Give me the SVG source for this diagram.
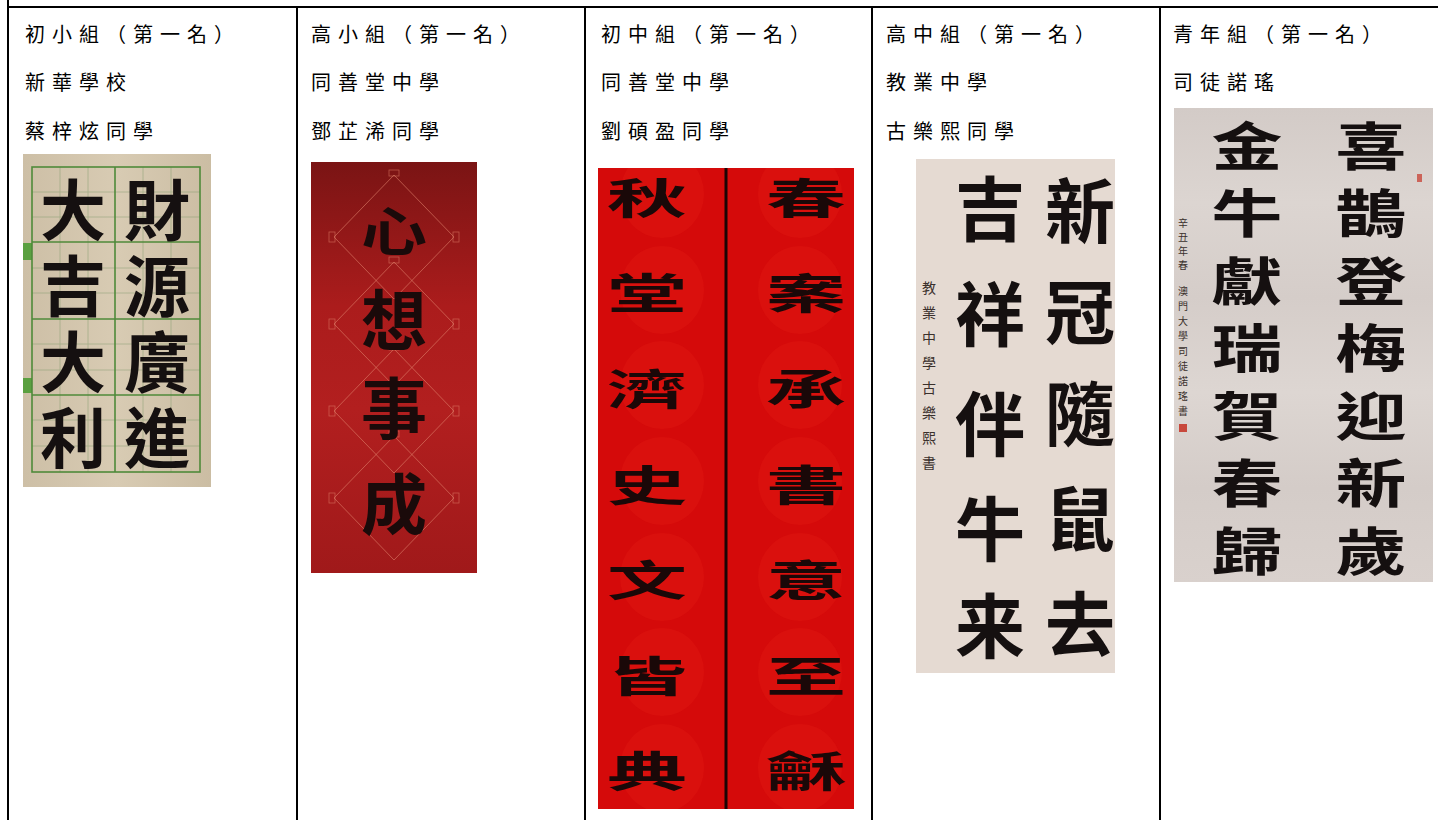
<svg xmlns="http://www.w3.org/2000/svg" width="1438" height="820" viewBox="0 0 1438 820">
<style>
.lbl{font-family:"Noto Sans CJK TC","Noto Sans CJK SC",sans-serif;font-size:20px;letter-spacing:7px;fill:#000}
.cal{font-family:"Noto Sans CJK TC","Noto Sans CJK SC",sans-serif;font-weight:700;text-anchor:middle;dominant-baseline:central;fill:#151010}
.sm{font-family:"Noto Sans CJK TC","Noto Sans CJK SC",sans-serif;text-anchor:middle;dominant-baseline:central;fill:#3a302c}
.grid{stroke:#4f8a3a;stroke-width:1.6;fill:none}
.sub{stroke:#7e9a6a;stroke-width:0.8;fill:none;opacity:0.55}
.dia{stroke:#e0806a;stroke-width:1;fill:none;opacity:0.6}
.fret{stroke:#e0806a;stroke-width:0.8;fill:none;opacity:0.6}
.circ{fill:#e01812;opacity:0.45}
.tbl{stroke:#000;stroke-width:2;fill:none}
</style>
<defs>
<linearGradient id="g2" x1="0" y1="0" x2="0" y2="1">
<stop offset="0" stop-color="#7a1414"/>
<stop offset="0.35" stop-color="#ab1c1c"/>
<stop offset="0.6" stop-color="#b21f1f"/>
<stop offset="1" stop-color="#a0191a"/>
</linearGradient>
<linearGradient id="g1" x1="0" y1="0" x2="1" y2="0">
<stop offset="0" stop-color="#cdbfa6"/>
<stop offset="0.5" stop-color="#d8cbb3"/>
<stop offset="1" stop-color="#cbbda3"/>
</linearGradient>
<linearGradient id="g5" x1="0" y1="0" x2="0" y2="1">
<stop offset="0" stop-color="#d3cbc7"/>
<stop offset="0.2" stop-color="#dcd5d1"/>
<stop offset="0.4" stop-color="#d5cdc9"/>
<stop offset="0.6" stop-color="#ddd6d2"/>
<stop offset="0.8" stop-color="#d4ccc8"/>
<stop offset="1" stop-color="#d9d1cd"/>
</linearGradient>
<clipPath id="c2"><rect x="311" y="162" width="166" height="411"/></clipPath>
<clipPath id="c3"><rect x="598" y="168" width="256" height="641"/></clipPath>
</defs>

<g id="table">
<line class="tbl" x1="8" y1="0" x2="8" y2="820"/>
<line class="tbl" x1="7" y1="7" x2="1438" y2="7"/>
<line class="tbl" x1="297" y1="7" x2="297" y2="820"/>
<line class="tbl" x1="585" y1="7" x2="585" y2="820"/>
<line class="tbl" x1="872" y1="7" x2="872" y2="820"/>
<line class="tbl" x1="1160" y1="7" x2="1160" y2="820"/>
</g>

<g id="col1">
<text class="lbl" x="25" y="42">初小組（第一名）</text>
<text class="lbl" x="25" y="90">新華學校</text>
<text class="lbl" x="25" y="139">蔡梓炫同學</text>
<g id="img1">
<rect x="23" y="154" width="188" height="333" fill="url(#g1)"/>
<rect x="23" y="243" width="9" height="17" fill="#5aa040"/>
<rect x="23" y="378" width="9" height="15" fill="#5aa040"/>
<g class="sub">
<line x1="60" y1="167" x2="60" y2="472"/><line x1="88" y1="167" x2="88" y2="472"/>
<line x1="143" y1="167" x2="143" y2="472"/><line x1="171" y1="167" x2="171" y2="472"/>
<line x1="32" y1="192" x2="200" y2="192"/><line x1="32" y1="217" x2="200" y2="217"/>
<line x1="32" y1="268" x2="200" y2="268"/><line x1="32" y1="293" x2="200" y2="293"/>
<line x1="32" y1="344" x2="200" y2="344"/><line x1="32" y1="370" x2="200" y2="370"/>
<line x1="32" y1="420" x2="200" y2="420"/><line x1="32" y1="446" x2="200" y2="446"/>
</g>
<g class="grid">
<rect x="32" y="167" width="168" height="305"/>
<line x1="115" y1="167" x2="115" y2="472"/>
<line x1="32" y1="242" x2="200" y2="242"/>
<line x1="32" y1="319" x2="200" y2="319"/>
<line x1="32" y1="395" x2="200" y2="395"/>
</g>
<g class="cal" style="font-size:66px">
<text x="157" y="206">財</text><text x="157" y="282">源</text><text x="157" y="358">廣</text><text x="157" y="434">進</text>
<text x="73" y="206">大</text><text x="73" y="282">吉</text><text x="73" y="358">大</text><text x="73" y="434">利</text>
</g>
</g>
</g>

<g id="col2">
<text class="lbl" x="311" y="42">高小組（第一名）</text>
<text class="lbl" x="311" y="90">同善堂中學</text>
<text class="lbl" x="311" y="139">鄧芷浠同學</text>
<g id="img2">
<rect x="311" y="162" width="166" height="411" fill="url(#g2)"/>
<g clip-path="url(#c2)">
<polygon class="dia" points="394,175 454,237 394,299 334,237"/>
<polygon class="dia" points="394,262 454,324 394,386 334,324"/>
<polygon class="dia" points="394,349 454,411 394,473 334,411"/>
<polygon class="dia" points="394,436 454,498 394,560 334,498"/>
<g class="fret">
<rect x="389" y="170" width="10" height="6"/><rect x="329" y="232" width="6" height="10"/><rect x="453" y="232" width="6" height="10"/>
<rect x="389" y="257" width="10" height="6"/><rect x="329" y="319" width="6" height="10"/><rect x="453" y="319" width="6" height="10"/>
<rect x="389" y="344" width="10" height="6"/><rect x="329" y="406" width="6" height="10"/><rect x="453" y="406" width="6" height="10"/>
<rect x="389" y="431" width="10" height="6"/><rect x="329" y="493" width="6" height="10"/><rect x="453" y="493" width="6" height="10"/>
</g>
</g>
<g class="cal" style="font-size:66px;fill:#1a0a0a">
<text transform="translate(394,228) scale(1,0.8)">心</text><text x="394" y="316">想</text><text x="394" y="404">事</text><text x="394" y="500">成</text>
</g>
</g>
</g>

<g id="col3">
<text class="lbl" x="601" y="42">初中組（第一名）</text>
<text class="lbl" x="601" y="90">同善堂中學</text>
<text class="lbl" x="601" y="139">劉碩盈同學</text>
<g id="img3">
<rect x="598" y="168" width="256" height="641" fill="#d50a0a"/>
<g clip-path="url(#c3)">
<ellipse class="circ" cx="662" cy="194" rx="42" ry="44"/><ellipse class="circ" cx="662" cy="290" rx="42" ry="44"/>
<ellipse class="circ" cx="662" cy="385" rx="42" ry="44"/><ellipse class="circ" cx="662" cy="481" rx="42" ry="44"/>
<ellipse class="circ" cx="662" cy="577" rx="42" ry="44"/><ellipse class="circ" cx="662" cy="672" rx="42" ry="44"/>
<ellipse class="circ" cx="662" cy="768" rx="42" ry="44"/>
<ellipse class="circ" cx="800" cy="194" rx="42" ry="44"/><ellipse class="circ" cx="800" cy="290" rx="42" ry="44"/>
<ellipse class="circ" cx="800" cy="385" rx="42" ry="44"/><ellipse class="circ" cx="800" cy="481" rx="42" ry="44"/>
<ellipse class="circ" cx="800" cy="577" rx="42" ry="44"/><ellipse class="circ" cx="800" cy="672" rx="42" ry="44"/>
<ellipse class="circ" cx="800" cy="768" rx="42" ry="44"/>
</g>
<line x1="726" y1="168" x2="726" y2="809" stroke="#1a0505" stroke-width="3"/>
<g class="cal" style="font-size:64px;fill:#1a0808">
<text transform="translate(806,196) scale(1.25,0.66)">春</text>
<text transform="translate(806,291) scale(1.25,0.66)">案</text>
<text transform="translate(806,387) scale(1.25,0.66)">承</text>
<text transform="translate(806,483) scale(1.25,0.66)">書</text>
<text transform="translate(806,578) scale(1.25,0.66)">意</text>
<text transform="translate(806,674) scale(1.25,0.66)">至</text>
<text transform="translate(806,769) scale(1.25,0.66)">龢</text>
<text transform="translate(647,196) scale(1.25,0.66)">秋</text>
<text transform="translate(647,291) scale(1.25,0.66)">堂</text>
<text transform="translate(647,387) scale(1.25,0.66)">濟</text>
<text transform="translate(647,483) scale(1.25,0.66)">史</text>
<text transform="translate(647,578) scale(1.25,0.66)">文</text>
<text transform="translate(647,674) scale(1.25,0.66)">皆</text>
<text transform="translate(647,769) scale(1.25,0.66)">典</text>
</g>
</g>
</g>

<g id="col4">
<text class="lbl" x="886" y="42">高中組（第一名）</text>
<text class="lbl" x="886" y="90">教業中學</text>
<text class="lbl" x="886" y="139">古樂熙同學</text>
<g id="img4">
<rect x="916" y="159" width="199" height="514" fill="#e5dad2"/>
<g class="cal" style="font-size:70px">
<text x="1080" y="207">新</text><text x="1080" y="308">冠</text><text x="1080" y="410">隨</text><text x="1080" y="515">鼠</text><text x="1080" y="620">去</text>
<text x="990" y="205">吉</text><text x="990" y="310">祥</text><text x="990" y="420">伴</text><text x="990" y="525">牛</text><text x="990" y="622">来</text>
</g>
<g class="sm" style="font-size:14px">
<text x="929" y="287">教</text><text x="929" y="312">業</text><text x="929" y="337">中</text><text x="929" y="362">學</text>
<text x="929" y="387">古</text><text x="929" y="412">樂</text><text x="929" y="437">熙</text><text x="929" y="462">書</text>
</g>
</g>
</g>

<g id="col5">
<text class="lbl" x="1173" y="42">青年組（第一名）</text>
<text class="lbl" x="1173" y="90">司徒諾瑤</text>
<g id="img5">
<rect x="1174" y="108" width="259" height="474" fill="url(#g5)"/>
<g class="cal" style="font-size:60px">
<text transform="translate(1371,143) scale(1.18,0.88)">喜</text>
<text transform="translate(1371,210) scale(1.18,0.88)">鵲</text>
<text transform="translate(1371,278) scale(1.18,0.88)">登</text>
<text transform="translate(1371,345) scale(1.18,0.88)">梅</text>
<text transform="translate(1371,413) scale(1.18,0.88)">迎</text>
<text transform="translate(1371,480) scale(1.18,0.88)">新</text>
<text transform="translate(1371,548) scale(1.18,0.88)">歲</text>
<text transform="translate(1247,143) scale(1.18,0.88)">金</text>
<text transform="translate(1247,210) scale(1.18,0.88)">牛</text>
<text transform="translate(1247,278) scale(1.18,0.88)">獻</text>
<text transform="translate(1247,345) scale(1.18,0.88)">瑞</text>
<text transform="translate(1247,413) scale(1.18,0.88)">賀</text>
<text transform="translate(1247,480) scale(1.18,0.88)">春</text>
<text transform="translate(1247,548) scale(1.18,0.88)">歸</text>
</g>
<g class="sm" style="font-size:10px">
<text x="1183" y="222">辛</text><text x="1183" y="236">丑</text><text x="1183" y="250">年</text><text x="1183" y="264">春</text>
<text x="1183" y="290">澳</text><text x="1183" y="305">門</text><text x="1183" y="320">大</text><text x="1183" y="335">學</text>
<text x="1183" y="350">司</text><text x="1183" y="365">徒</text><text x="1183" y="380">諾</text><text x="1183" y="395">瑤</text><text x="1183" y="410">書</text>
</g>
<rect x="1179" y="424" width="8" height="8" fill="#c8483c"/>
<rect x="1417" y="174" width="5" height="8" fill="#c8483c" opacity="0.8"/>
</g>
</g>
</svg>
